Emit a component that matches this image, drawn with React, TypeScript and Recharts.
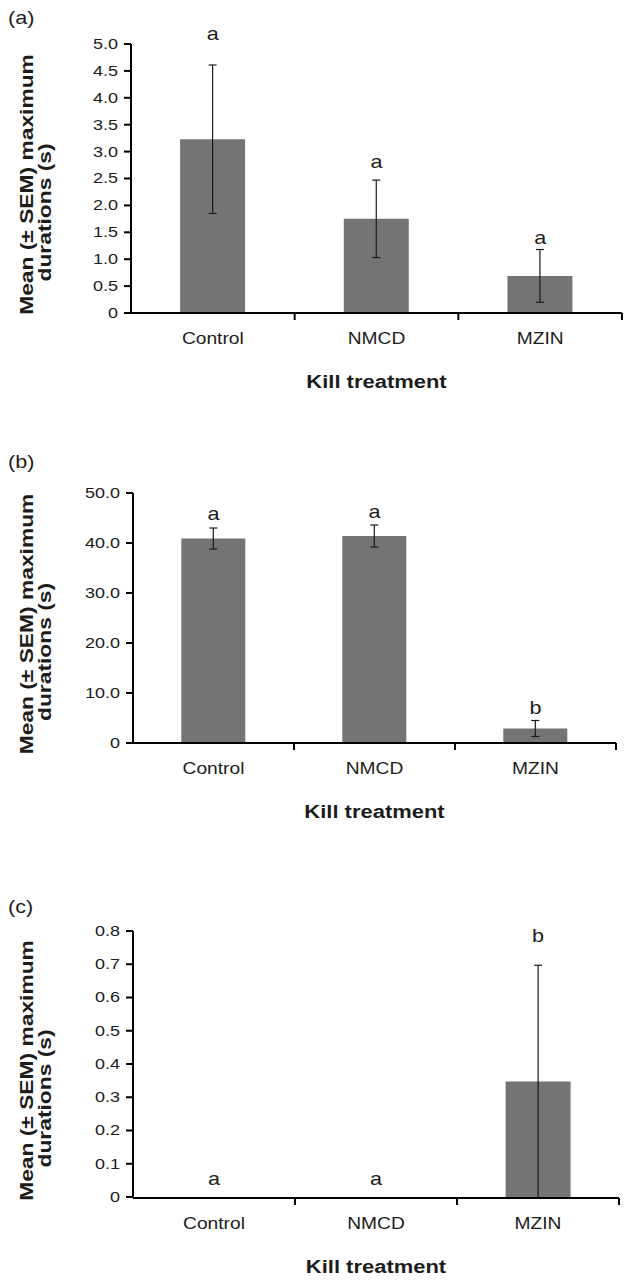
import React from 'react';
import { ComposedChart, Bar, XAxis, YAxis, ErrorBar, ReferenceDot } from 'recharts';

const categories = ['Control', 'NMCD', 'MZIN'];

// (a)
const meansA = [3.23, 1.75, 0.69];
const semA = [1.38, 0.72, 0.49];
const lettersA = ['a', 'a', 'a'];
const letterPosA = [5.2, 2.81, 1.4];
const ticksA = [0, 0.5, 1, 1.5, 2, 2.5, 3, 3.5, 4, 4.5, 5];

// (b)
const meansB = [40.9, 41.4, 2.9];
const semB = [2.1, 2.2, 1.6];
const lettersB = ['a', 'a', 'b'];
const letterPosB = [45.8, 46.2, 7.0];
const ticksB = [0, 10, 20, 30, 40, 50];

// (c)
const meansC = [0, 0, 0.347];
const semC = [0, 0, 0.35];
const lettersC = ['a', 'a', 'b'];
const letterPosC = [0.054, 0.054, 0.787];
const ticksC = [0, 0.1, 0.2, 0.3, 0.4, 0.5, 0.6, 0.7, 0.8];

const yTitle = ['Mean (± SEM) maximum', 'durations (s)'];
const xTitle = 'Kill treatment';

const FONT = '"Liberation Sans", Arial, Helvetica, sans-serif';
const STRETCH = 1.2;
const INK = '#1c1c1c';
const BAR = '#747474';

type WideProps = {
  x: number;
  y: number;
  size: number;
  bold?: boolean;
  anchor?: 'start' | 'middle' | 'end';
  rotate?: number;
  baseline?: string;
  children: React.ReactNode;
};

// Excel-ish text: the source figure renders its type noticeably wider than Arial
function WideText({ x, y, size, bold, anchor = 'middle', rotate = 0, baseline = 'central', children }: WideProps) {
  return (
    <text
      transform={`translate(${x},${y}) rotate(${rotate}) scale(${STRETCH},1)`}
      textAnchor={anchor}
      dominantBaseline={baseline}
      fontFamily={FONT}
      fontSize={size}
      fontWeight={bold ? 700 : 400}
      fill={INK}
    >
      {children}
    </text>
  );
}

const fmt = (v: number) => (v === 0 ? '0' : v.toFixed(1));

function YTick(props: any) {
  const { x, y, payload } = props;
  return (
    <WideText x={x} y={y} size={15} anchor="end">
      {fmt(payload.value)}
    </WideText>
  );
}

function XTick(props: any) {
  const { x, y, payload } = props;
  const edge = x + (payload.offset ?? 0);
  return (
    <g>
      <line x1={edge} y1={y} x2={edge} y2={y + 7} stroke="#000" strokeWidth={2} />
      <WideText x={x} y={y + 26} size={16}>
        {payload.value}
      </WideText>
    </g>
  );
}

type PanelProps = {
  tag: string;
  means: number[];
  sems: number[];
  letters: string[];
  letterPos: number[];
  ticks: number[];
  top: number;
  height: number;
  marginTop: number;
  marginRight: number;
  axisWidth: number;
  xAxisHeight: number;
};

function Panel({ tag, means, sems, letters, letterPos, ticks, top, height, marginTop, marginRight, axisWidth, xAxisHeight }: PanelProps) {
  const rows = categories.map((name, i) => ({ name, mean: means[i], sem: sems[i] }));
  const plotH = height - marginTop - xAxisHeight;
  const mid = marginTop + plotH / 2;

  const yLabel = () => (
    <g>
      <WideText x={8} y={18} size={18} anchor="start">
        {tag}
      </WideText>
      <WideText x={33} y={mid + 6} size={19} bold rotate={-90} baseline="alphabetic">
        {yTitle[0]}
      </WideText>
      <WideText x={51} y={mid + 34} size={19} bold rotate={-90} baseline="alphabetic">
        {yTitle[1]}
      </WideText>
    </g>
  );

  const xLabel = (p: any) => {
    const vb = p.viewBox || {};
    return (
      <WideText x={vb.x + vb.width / 2} y={vb.y + 69} size={18.3} bold>
        {xTitle}
      </WideText>
    );
  };

  return (
    <div style={{ position: 'absolute', left: 0, top }}>
      <ComposedChart
        width={624}
        height={height}
        data={rows}
        margin={{ top: marginTop, right: marginRight, bottom: 0, left: 0 }}
        barCategoryGap="30%"
      >
        <XAxis
          dataKey="name"
          height={xAxisHeight}
          interval={0}
          tickSize={0}
          tickMargin={0}
          tickLine={false}
          axisLine={{ stroke: '#000', strokeWidth: 2 }}
          tick={XTick}
          label={xLabel}
        />
        <YAxis
          width={axisWidth}
          domain={[0, ticks[ticks.length - 1]]}
          ticks={ticks}
          interval={0}
          tickSize={7}
          tickMargin={6}
          axisLine={{ stroke: '#000', strokeWidth: 2 }}
          tickLine={{ stroke: '#000', strokeWidth: 2 }}
          tick={YTick}
          label={yLabel}
        />
        <Bar dataKey="mean" fill={BAR} isAnimationActive={false}>
          <ErrorBar dataKey="sem" width={4} stroke="#1a1a1a" strokeWidth={1.2} direction="y" />
        </Bar>
        {categories.map((c, i) => (
          <ReferenceDot
            key={c}
            x={c}
            y={letterPos[i]}
            r={0}
            fill="none"
            stroke="none"
            ifOverflow="visible"
            label={(p: any) => {
              const vb = p.viewBox || {};
              return (
                <WideText x={vb.x + (vb.width || 0) / 2} y={vb.y + (vb.height || 0) / 2} size={18}>
                  {letters[i]}
                </WideText>
              );
            }}
          />
        ))}
      </ComposedChart>
    </div>
  );
}

export default function App() {
  return (
    <div style={{ position: 'absolute', left: 0, top: 0, width: 624, height: 1280, background: '#fff' }}>
      <Panel
        tag="(a)"
        means={meansA}
        sems={semA}
        letters={lettersA}
        letterPos={letterPosA}
        ticks={ticksA}
        top={0}
        height={400}
        marginTop={44}
        marginRight={2}
        axisWidth={131}
        xAxisHeight={87}
      />
      <Panel
        tag="(b)"
        means={meansB}
        sems={semB}
        letters={lettersB}
        letterPos={letterPosB}
        ticks={ticksB}
        top={444}
        height={390}
        marginTop={49}
        marginRight={8}
        axisWidth={133}
        xAxisHeight={91}
      />
      <Panel
        tag="(c)"
        means={meansC}
        sems={semC}
        letters={lettersC}
        letterPos={letterPosC}
        ticks={ticksC}
        top={889}
        height={391}
        marginTop={42}
        marginRight={5}
        axisWidth={133}
        xAxisHeight={82}
      />
    </div>
  );
}
